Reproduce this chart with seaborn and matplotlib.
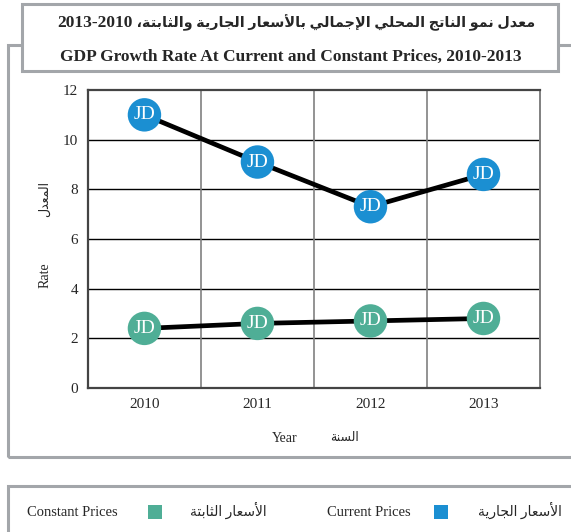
import numpy as np
import pandas as pd
import seaborn as sns
import matplotlib
matplotlib.use("Agg")
import matplotlib.pyplot as plt
from matplotlib.patches import Rectangle

# ===================== DATA =====================
years = ["2010", "2011", "2012", "2013"]
current_prices = [11.0, 9.1, 7.3, 8.6]
constant_prices = [2.4, 2.6, 2.7, 2.8]
y_ticks = [0, 2, 4, 6, 8, 10, 12]

title_ar = "معدل نمو الناتج المحلي الإجمالي بالأسعار الجارية والثابتة، "
title_years = "2013-2010"
title_en = "GDP Growth Rate At Current and Constant Prices, 2010-2013"
ylabel_ar, ylabel_en = "المعدل", "Rate"
xlabel_ar, xlabel_en = "السنة", "Year"
current_ar, current_en = "الأسعار الجارية", "Current Prices"
constant_ar, constant_en = "الأسعار الثابتة", "Constant Prices"

BLUE = "#1b8fd2"
GREEN = "#4fae96"
FRAME = "#a3a6aa"

# ===================== ARABIC SHAPING (no reshaper lib offline) =====================
FORMS = {
    "ا": ("\uFE8D", "\uFE8E", None, None),
    "أ": ("\uFE83", "\uFE84", None, None),
    "إ": ("\uFE87", "\uFE88", None, None),
    "ب": ("\uFE8F", "\uFE90", "\uFE91", "\uFE92"),
    "ة": ("\uFE93", "\uFE94", None, None),
    "ت": ("\uFE95", "\uFE96", "\uFE97", "\uFE98"),
    "ث": ("\uFE99", "\uFE9A", "\uFE9B", "\uFE9C"),
    "ج": ("\uFE9D", "\uFE9E", "\uFE9F", "\uFEA0"),
    "ح": ("\uFEA1", "\uFEA2", "\uFEA3", "\uFEA4"),
    "د": ("\uFEA9", "\uFEAA", None, None),
    "ر": ("\uFEAD", "\uFEAE", None, None),
    "س": ("\uFEB1", "\uFEB2", "\uFEB3", "\uFEB4"),
    "ع": ("\uFEC9", "\uFECA", "\uFECB", "\uFECC"),
    "ل": ("\uFEDD", "\uFEDE", "\uFEDF", "\uFEE0"),
    "م": ("\uFEE1", "\uFEE2", "\uFEE3", "\uFEE4"),
    "ن": ("\uFEE5", "\uFEE6", "\uFEE7", "\uFEE8"),
    "و": ("\uFEED", "\uFEEE", None, None),
    "ي": ("\uFEF1", "\uFEF2", "\uFEF3", "\uFEF4"),
}
LAM_ALEF = {"أ": ("\uFEF7", "\uFEF8"), "إ": ("\uFEF9", "\uFEFA"), "ا": ("\uFEFB", "\uFEFC")}


def ar(s):
    def dual(c):
        return c in FORMS and FORMS[c][2] is not None
    out, i, n = [], 0, len(s)
    while i < n:
        c = s[i]
        prev = i > 0 and dual(s[i - 1])
        if c == "ل" and i + 1 < n and s[i + 1] in LAM_ALEF:
            out.append(LAM_ALEF[s[i + 1]][1 if prev else 0])
            i += 2
            continue
        if c not in FORMS:
            out.append(c)
            i += 1
            continue
        nxt = dual(c) and i + 1 < n and s[i + 1] in FORMS
        iso, fin, ini, med = FORMS[c]
        out.append(med if prev and nxt else fin if prev else ini if nxt else iso)
        i += 1
    return "".join(out)[::-1]


# ===================== STYLE =====================
sns.set_style("white")
SERIF = ["Liberation Serif", "DejaVu Sans"]
plt.rcParams["font.family"] = SERIF

df = pd.DataFrame({
    "x": np.arange(len(years)),
    "Current": current_prices,
    "Constant": constant_prices,
})

fig = plt.figure(figsize=(5.71, 5.32), dpi=100)

# frames
fig.patches.append(Rectangle((0.014, 0.141), 1.2, 0.774, transform=fig.transFigure,
                             fill=False, ec=FRAME, lw=2.2, zorder=0))
fig.patches.append(Rectangle((0.0385, 0.8665), 0.938, 0.126, transform=fig.transFigure,
                             fc="white", ec=FRAME, lw=2.2, zorder=1))
fig.patches.append(Rectangle((0.014, -0.2), 1.2, 0.2865, transform=fig.transFigure,
                             fill=False, ec=FRAME, lw=2.2, zorder=0))

ax = fig.add_axes([0.154, 0.2707, 0.7917, 0.5601])

for col, colour in [("Current", BLUE), ("Constant", GREEN)]:
    sns.lineplot(data=df, x="x", y=col, color="black", lw=3.4, ax=ax, zorder=3)
    sns.scatterplot(data=df, x="x", y=col, color=colour, s=580, edgecolor="none",
                    ax=ax, zorder=4)
    for xi, yi in zip(df["x"], df[col]):
        ax.text(xi, yi, "JD", color="white", fontsize=14, ha="center", va="center",
                zorder=5)

ax.set_xlim(-0.5, len(years) - 0.5)
ax.set_ylim(0, 12)
ax.set_yticks(y_ticks)
ax.set_xticks(df["x"])
ax.set_xticklabels(years)
ax.set_xlabel("")
ax.set_ylabel("")
ax.tick_params(length=0, labelsize=11, pad=7)

for y in y_ticks[1:-1]:
    ax.axhline(y, color="black", lw=1.0, zorder=1)
for x in np.arange(len(years) - 1) + 0.5:
    ax.axvline(x, color="#808080", lw=1.2, zorder=1)

for side in ["left", "bottom", "top"]:
    ax.spines[side].set_color("#444444")
    ax.spines[side].set_linewidth(1.6)
ax.spines["right"].set_color("#808080")
ax.spines["right"].set_linewidth(1.4)

# titles: Arabic part right-aligned, years placed to its left
t_ar = fig.text(0.937, 0.958, ar(title_ar), ha="right", va="center",
                fontsize=10.4, fontweight="bold")
fig.canvas.draw()
bb = t_ar.get_window_extent().transformed(fig.transFigure.inverted())
fig.text(bb.x0, 0.957, title_years, ha="right", va="center",
         fontsize=12.5, fontweight="bold")
fig.text(0.51, 0.893, title_en, ha="center", va="center", fontsize=12.5,
         fontweight="bold")

# axis labels
fig.text(0.079, 0.483, ylabel_en, rotation=90, ha="center", va="center", fontsize=10)
fig.text(0.079, 0.626, ar(ylabel_ar), rotation=90, ha="center", va="center", fontsize=9)
fig.text(0.499, 0.176, xlabel_en, ha="center", va="center", fontsize=10)
fig.text(0.604, 0.176, ar(xlabel_ar), ha="center", va="center", fontsize=9)

# legend
legend_items = [(constant_en, GREEN, constant_ar, 0.047, 0.259, 0.333),
                (current_en, BLUE, current_ar, 0.573, 0.760, 0.837)]
for en, colour, arabic, x_en, x_sq, x_ar in legend_items:
    fig.text(x_en, 0.037, en, ha="left", va="center", fontsize=10.5)
    fig.patches.append(Rectangle((x_sq, 0.024), 0.024, 0.026, transform=fig.transFigure,
                                 fc=colour, ec="none"))
    fig.text(x_ar, 0.040, ar(arabic), ha="left", va="center", fontsize=10)

fig.savefig("out.png", dpi=100)
